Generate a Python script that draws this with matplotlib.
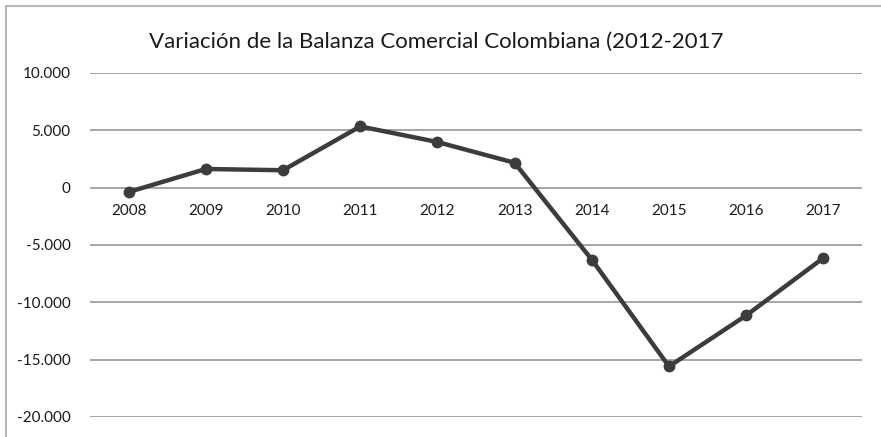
import matplotlib
matplotlib.use("Agg")
import matplotlib.pyplot as plt
from matplotlib.patches import Rectangle

years = ["2008", "2009", "2010", "2011", "2012", "2013", "2014", "2015", "2016", "2017"]
balance = [-380, 1630, 1520, 5340, 3980, 2170, -6280, -15590, -11140, -6130]
y_ticks = [10000, 5000, 0, -5000, -10000, -15000, -20000]
y_labels = ["10.000", "5.000", "0", "-5.000", "-10.000", "-15.000", "-20.000"]
title = "Variación de la Balanza Comercial Colombiana (2012-2017"

plt.rcParams['font.family'] = ['Lato', 'DejaVu Sans']

W, H = 881, 437
fig = plt.figure(figsize=(W / 100, H / 100), dpi=100)
fig.patch.set_facecolor("white")

# outer chart border
fig.patches.append(Rectangle((6 / W, -0.1), 1.0, (H - 6) / H + 0.1, transform=fig.transFigure,
                             fill=False, edgecolor="#b8b8b8", linewidth=1.5))

ax = fig.add_axes([90 / W, (H - 417) / H, 772 / W, 344 / H])
ax.set_facecolor("none")
x = list(range(len(years)))
ax.set_xlim(-0.5, len(years) - 0.5)
ax.set_ylim(-20000, 10000)
ax.set_yticks(y_ticks)
ax.set_yticklabels(y_labels, fontsize=11, color="#1a1a1a")
ax.tick_params(axis="y", length=0, pad=14)
ax.set_xticks([])
for s in ax.spines.values():
    s.set_visible(False)
ax.grid(axis="y", color="#a6a6a6", linewidth=1.4)
ax.set_axisbelow(True)

ax.plot(x, balance, color="#3c3c3c", linewidth=3.2, marker="o", markersize=7.5,
        solid_capstyle="round", zorder=3, clip_on=False)

for i, lab in enumerate(years):
    ax.annotate(lab, xy=(i, 0), xytext=(0, -12), textcoords="offset points",
                ha="center", va="top", fontsize=11, color="#1a1a1a")

fig.text(436 / W, 1 - 42 / H, title, ha="center", va="center", fontsize=16, color="#1a1a1a")

fig.savefig("out.png", dpi=100, facecolor="white")
